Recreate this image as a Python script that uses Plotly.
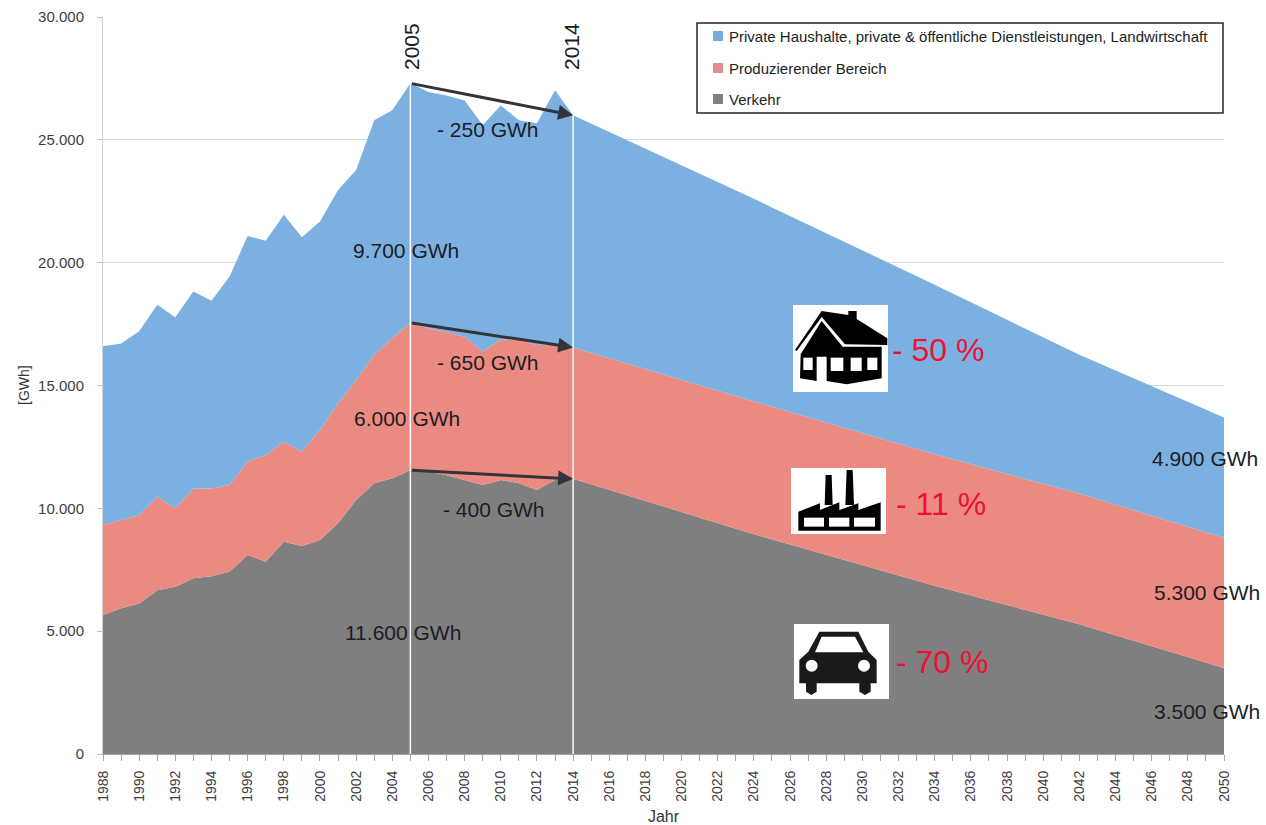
import plotly.graph_objects as go

W, H = 1266, 825
L, R, T, B = 103, 1224, 17, 754

years = [1988, 1989, 1990, 1991, 1992, 1993, 1994, 1995, 1996, 1997, 1998, 1999, 2000,
         2001, 2002, 2003, 2004, 2005, 2006, 2007, 2008, 2009, 2010, 2011, 2012, 2013,
         2014, 2024, 2034, 2042, 2050]
verkehr = [5660, 5930, 6130, 6670, 6810, 7150, 7240, 7420, 8100, 7830, 8640, 8470, 8710,
           9390, 10340, 11020, 11220, 11550, 11500, 11350, 11150, 10950, 11150, 11020, 10750, 11150,
           11200, 8950, 6850, 5280, 3500]
produzierend = [3660, 3600, 3590, 3800, 3190, 3660, 3570, 3530, 3800, 4340, 4070, 3830, 4480,
                4880, 4880, 5220, 5710, 6000, 5830, 5830, 5830, 5430, 5710, 5840, 5900, 5550,
                5350, 5400, 5350, 5320, 5300]
privat = [7280, 7180, 7490, 7820, 7780, 8020, 7640, 8490, 9190, 8720, 9240, 8730, 8490,
          8690, 8550, 9560, 9270, 9750, 9620, 9620, 9620, 9220, 9540, 8940, 9020, 10320,
          9450, 8250, 6900, 5650, 4900]

series_names = ["Verkehr", "Produzierender Bereich",
                "Private Haushalte, private & öffentliche Dienstleistungen, Landwirtschaft"]
fills = ["#7f7f7f", "#ea8a80", "#7bb0e1"]
swatches = ["#7f7f7f", "#e58b90", "#7ba9dc"]

FONT = "Liberation Sans, Arial, sans-serif"
DARK = "#1c1c24"
RED = "#ee1133"


def px(x):
    return (x - L) / (R - L)


def py(y):
    return (B - y) / (B - T)


def path(points):
    return "M " + " L ".join(f"{px(x):.5f} {py(y):.5f}" for x, y in points) + " Z"


def z(points):
    """Icon outline points, given in the coordinates of the icon crop."""
    return [(780 + a / 3, 295 + b / 3) for a, b in points]


def rect_z(a0, b0, a1, b1):
    return z([(a0, b0), (a1, b0), (a1, b1), (a0, b1)])


fig = go.Figure()
for name, vals, col in zip(series_names, [verkehr, produzierend, privat], fills):
    fig.add_trace(go.Scatter(x=years, y=vals, name=name, mode="lines", stackgroup="one",
                             line=dict(width=0, color=col), fillcolor=col, showlegend=False))

shapes = []
# white reference lines at the two marked years
total = {y: a + b + c for y, a, b, c in zip(years, verkehr, produzierend, privat)}
for yr in (2005, 2014):
    shapes.append(dict(type="line", xref="x", yref="y", x0=yr, x1=yr, y0=0, y1=total[yr],
                       line=dict(color="white", width=1.5), layer="above"))


def paper_rect(x0, y0, x1, y1, fill, line=None, lw=0):
    return dict(type="rect", xref="paper", yref="paper", x0=px(x0), x1=px(x1), y0=py(y1), y1=py(y0),
                fillcolor=fill, line=dict(color=line or fill, width=lw), layer="above")


def paper_path(points, fill):
    return dict(type="path", xref="paper", yref="paper", path=path(points), fillcolor=fill,
                line=dict(width=0), layer="above")


# legend box
shapes.append(paper_rect(697, 23, 1223, 113, "white", "#222222", 1.5))
legend_rows = [(36, 2), (68, 1), (99, 0)]
for ypos, idx in legend_rows:
    shapes.append(paper_rect(713, ypos - 5, 723, ypos + 5, swatches[idx]))

# icon: house
shapes.append(paper_rect(793, 305, 888, 392, "white"))
shapes.append(paper_path(z([(45, 165), (125, 48), (205, 60), (205, 48), (230, 48), (230, 72),
                            (322, 130), (322, 150), (195, 148), (125, 66), (50, 168)]), "black"))
shapes.append(paper_path(z([(62, 178), (125, 78), (188, 155), (305, 155), (305, 250), (200, 268),
                            (140, 258), (140, 185), (110, 185), (110, 258), (60, 250)]), "black"))
for a0, a1, b0, b1 in [(70, 98, 188, 225), (152, 190, 188, 228), (212, 245, 188, 228), (262, 292, 188, 225)]:
    shapes.append(paper_path(rect_z(a0, b0, a1, b1), "white"))

# icon: factory
shapes.append(paper_rect(791, 468, 886, 534, "white"))
shapes.append(paper_path(z([(137, 540), (155, 540), (158, 630), (134, 630)]), "black"))
shapes.append(paper_path(z([(200, 525), (218, 525), (222, 630), (196, 630)]), "black"))
shapes.append(paper_path(z([(55, 650), (120, 625), (120, 645), (178, 622), (178, 645), (235, 625),
                            (235, 645), (302, 622), (302, 707), (55, 707)]), "black"))
for a0, a1 in [(72, 132), (147, 208), (222, 285)]:
    shapes.append(paper_path(rect_z(a0, 668, a1, 695), "white"))

# icon: car
shapes.append(paper_rect(794, 624, 889, 699, "white"))
shapes.append(paper_path(z([(85, 1070), (118, 1010), (235, 1010), (265, 1070), (290, 1095),
                            (290, 1165), (272, 1165), (272, 1190), (255, 1200), (238, 1190), (238, 1165),
                            (110, 1165), (110, 1190), (94, 1200), (78, 1190), (78, 1165),
                            (58, 1165), (58, 1095)]), "#1a1a1a"))
shapes.append(paper_path(z([(125, 1025), (225, 1025), (250, 1072), (105, 1072)]), "white"))
for cx in (95, 252):
    shapes.append(dict(type="circle", xref="paper", yref="paper",
                       x0=px(780 + (cx - 18) / 3), x1=px(780 + (cx + 18) / 3),
                       y0=py(295 + (1112 + 18) / 3), y1=py(295 + (1112 - 18) / 3),
                       fillcolor="white", line=dict(width=0), layer="above"))

annotations = []


def label(text, cx, cy, size=22, color=DARK, angle=0, anchor="center"):
    annotations.append(dict(text=text, xref="paper", yref="paper", x=px(cx), y=py(cy), showarrow=False,
                            xanchor=anchor, yanchor="middle", textangle=angle,
                            font=dict(family=FONT, size=size, color=color)))


for text, cx, cy in [("- 250 GWh", 488, 129), ("- 650 GWh", 488, 362), ("- 400 GWh", 494, 510),
                     ("9.700 GWh", 406, 250), ("6.000 GWh", 407, 419), ("11.600 GWh", 403, 632),
                     ("4.900 GWh", 1205, 459), ("5.300 GWh", 1207, 592), ("3.500 GWh", 1207, 711)]:
    label(text, cx, cy, size=21)
label("2005", 411, 47, size=21, angle=-90)
label("2014", 571, 47, size=21, angle=-90)
label("- 50 %", 938, 350, size=32, color=RED)
label("- 11 %", 941, 504, size=32, color=RED)
label("- 70 %", 942, 662, size=32, color=RED)

label(series_names[2], 727, 36, size=15, color="#222222", anchor="left")
label(series_names[1], 727, 68, size=15, color="#222222", anchor="left")
label(series_names[0], 727, 99, size=15, color="#222222", anchor="left")
label("[GWh]", 24, 385, size=14, color="#333333", angle=-90)

# trend arrows between 2005 and 2014
cum = {
    "top": total,
    "mid": {y: a + b for y, a, b in zip(years, verkehr, produzierend)},
    "low": dict(zip(years, verkehr)),
}
for key in ("top", "mid", "low"):
    annotations.append(dict(x=2014, y=cum[key][2014], ax=2005, ay=cum[key][2005], xref="x", yref="y",
                            axref="x", ayref="y", text="", showarrow=True, arrowhead=2, arrowsize=1,
                            arrowwidth=3, arrowcolor="#33343a"))

fig.update_layout(
    width=W, height=H, paper_bgcolor="white", plot_bgcolor="white", separators=",.",
    margin=dict(l=L, r=W - R, t=T, b=H - B, pad=0, autoexpand=False), showlegend=False,
    font=dict(family=FONT, color="#333333"),
    shapes=shapes, annotations=annotations,
    xaxis=dict(range=[1988, 2050], tick0=1988, dtick=2, tickangle=-90, ticks="outside", ticklen=6,
               tickcolor="#a6a6a6", showgrid=False, zeroline=False, showline=True, linecolor="#a6a6a6",
               tickfont=dict(size=14, color="#404040"), ticklabelstandoff=4, automargin=False,
               minor=dict(dtick=1, tick0=1988, ticks="outside", ticklen=6, tickcolor="#a6a6a6", showgrid=False),
               title=dict(text="Jahr", font=dict(size=16, color="#333333"))),
    yaxis=dict(range=[0, 30000], tick0=0, dtick=5000, tickformat=",d", ticks="outside", ticklen=5,
               tickcolor="#bfbfbf", showgrid=True, gridcolor="#d9d9d9", zeroline=False, showline=True,
               linecolor="#d0d0d0", tickfont=dict(size=15, color="#404040"), ticklabelstandoff=10,
               automargin=False),
)

fig.write_html("out.html", config={"displayModeBar": False},
               post_script="document.body.style.margin='0';")
